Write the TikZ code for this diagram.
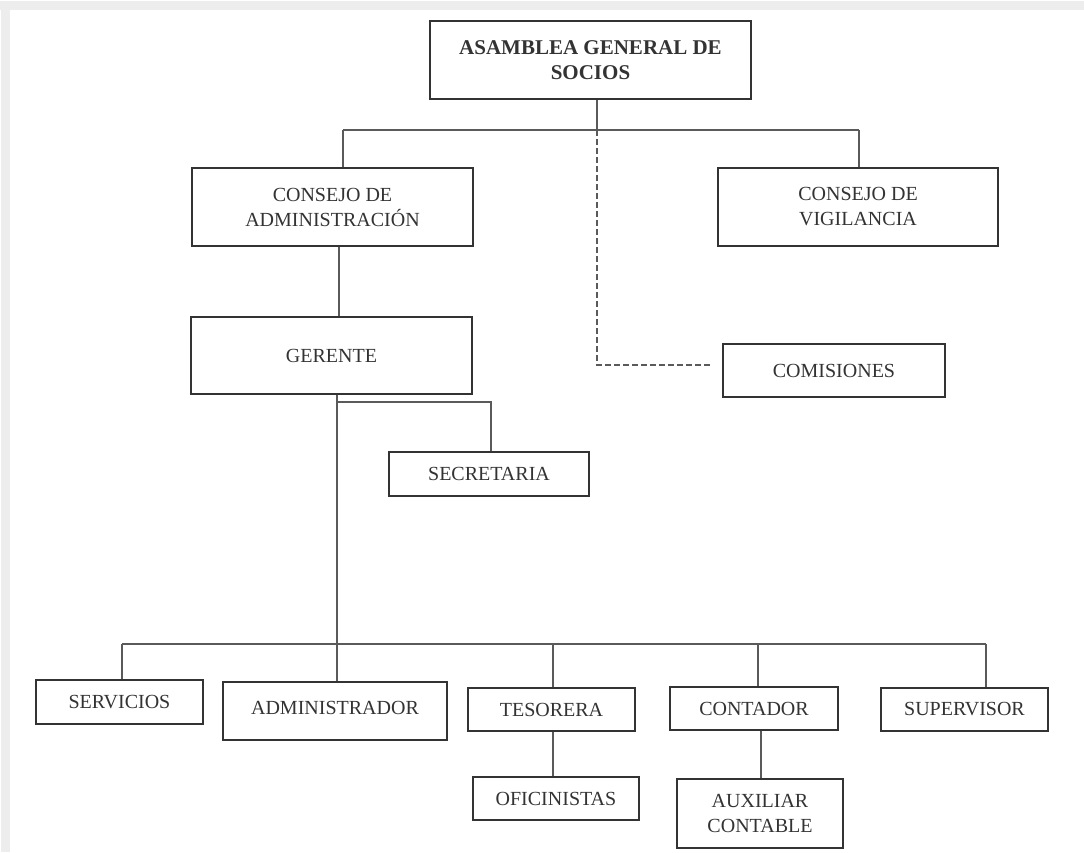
\documentclass[tikz,border=0pt]{standalone}
\usepackage{fontspec}
\setmainfont{Liberation Serif}
\definecolor{boxc}{HTML}{333333}
\definecolor{linec}{HTML}{5A5A5A}
\definecolor{txtc}{HTML}{333333}
\definecolor{bandc}{HTML}{EDEDED}
\begin{document}
\begin{tikzpicture}[x=1pt,y=-1pt,
  box/.style={draw=boxc,line width=2.2pt,fill=white,inner sep=0pt,align=center,
    text=txtc,font=\fontsize{20}{25}\selectfont},
  conn/.style={draw=linec,line width=1.3pt},
  dconn/.style={draw=linec,line width=1.3pt,dash pattern=on 6pt off 3pt}]
\useasboundingbox (0,0) rectangle (1084,852);
\fill[white] (0,0) rectangle (1084,852);
\fill[bandc] (0,1) rectangle (1084,10);
\fill[bandc] (1,10) rectangle (10,852);

% nodes
\node[box,minimum width=321,minimum height=78,font=\bfseries\fontsize{21}{25}\selectfont] (asam) at (590.5,60) {ASAMBLEA GENERAL DE\\SOCIOS};
\node[box,minimum width=281,minimum height=78] (cadm) at (332.5,207) {CONSEJO DE\\ADMINISTRACIÓN};
\node[box,minimum width=280,minimum height=78] (cvig) at (858,207) {CONSEJO DE\\VIGILANCIA};
\node[box,minimum width=281,minimum height=77] (ger) at (331.5,355.5) {GERENTE};
\node[box,minimum width=222,minimum height=53] (com) at (834,370.5) {COMISIONES};
\node[box,minimum width=200,minimum height=44] (sec) at (489,474) {SECRETARIA};
\node[box,minimum width=167,minimum height=44] (serv) at (119.5,702) {SERVICIOS};
\node[box,minimum width=224,minimum height=58] (adm) at (335,711) {\raisebox{6pt}{ADMINISTRADOR}};
\node[box,minimum width=167,minimum height=43] (tes) at (551.5,709.5) {TESORERA};
\node[box,minimum width=168,minimum height=43] (cont) at (754,708.5) {CONTADOR};
\node[box,minimum width=167,minimum height=43] (sup) at (964.5,709.5) {SUPERVISOR};
\node[box,minimum width=166,minimum height=43] (ofi) at (556,798.5) {OFICINISTAS};
\node[box,minimum width=166,minimum height=69] (aux) at (760,813.5) {AUXILIAR\\CONTABLE};

% coordinates
\coordinate (bus1) at (597,130);
\coordinate (b1L) at (343,130);
\coordinate (b1R) at (859,130);
\coordinate (c2) at (339,0);
\coordinate (dashend) at (712,365);
\coordinate (g1) at (337,402);
\coordinate (g2) at (491,402);
\coordinate (bus2) at (337,644);
\coordinate (b2L) at (122,644);
\coordinate (b2R) at (986,644);
\coordinate (xt) at (553,644);
\coordinate (xc) at (758,644);
\coordinate (xo) at (553,0);
\coordinate (xa) at (761,0);

% connectors
\draw[dconn] (bus1) |- (dashend);
\draw[conn] (asam.south -| bus1) -- (bus1);
\draw[conn] (b1L) -- (b1R);
\draw[conn] (b1L) -- (b1L |- cadm.north);
\draw[conn] (b1R) -- (b1R |- cvig.north);
\draw[conn] (cadm.south -| c2) -- (ger.north -| c2);
\draw[conn] (ger.south -| g1) -- (bus2);
\draw[conn] (g1) -- (g2) -- (sec.north -| g2);
\draw[conn] (b2L) -- (b2R);
\draw[conn] (b2L) -- (b2L |- serv.north);
\draw[conn] (bus2) -- (bus2 |- adm.north);
\draw[conn] (xt) -- (xt |- tes.north);
\draw[conn] (xc) -- (xc |- cont.north);
\draw[conn] (b2R) -- (b2R |- sup.north);
\draw[conn] (tes.south -| xo) -- (ofi.north -| xo);
\draw[conn] (cont.south -| xa) -- (aux.north -| xa);
\end{tikzpicture}
\end{document}
